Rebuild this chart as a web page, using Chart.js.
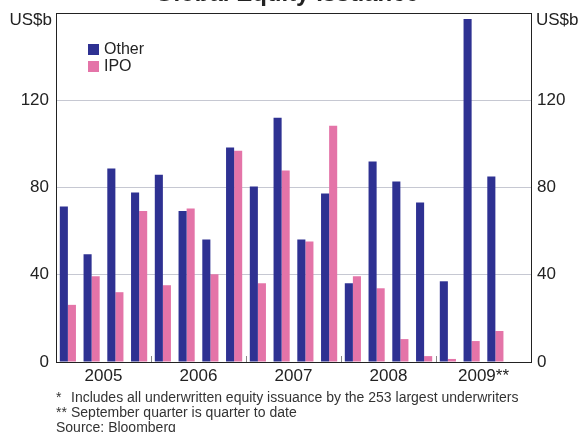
<!DOCTYPE html>
<html>
<head>
<meta charset="utf-8">
<script src="https://cdn.jsdelivr.net/npm/chart.js@4.4.1/dist/chart.umd.min.js"></script>
<style>
  html, body { margin: 0; padding: 0; background: #fff; }
  #wrap { position: relative; width: 582px; height: 432px; overflow: hidden; font-family: "Liberation Sans", Arial, sans-serif; }
  #c { position: absolute; left: 0; top: 0; }
  .fn { position: absolute; font-size: 14px; color: #333; line-height: 15px; white-space: nowrap; }
</style>
</head>
<body>
<div id="wrap">
  <canvas id="c" width="582" height="432"></canvas>
  <div class="fn" style="left:56px; top:390px;">*</div>
  <div class="fn" style="left:71px; top:390px;">Includes all underwritten equity issuance by the 253 largest underwriters</div>
  <div class="fn" style="left:56px; top:405px;">**</div>
  <div class="fn" style="left:71px; top:405px;">September quarter is quarter to date</div>
  <div class="fn" style="left:56px; top:420px;">Source: Bloomberg</div>
</div>
<script>
const quarters = [
  '2005 Q1','2005 Q2','2005 Q3','2005 Q4',
  '2006 Q1','2006 Q2','2006 Q3','2006 Q4',
  '2007 Q1','2007 Q2','2007 Q3','2007 Q4',
  '2008 Q1','2008 Q2','2008 Q3','2008 Q4',
  '2009 Q1','2009 Q2','2009 Q3','2009 Q4'
];
const years = ['2005','2006','2007','2008','2009**'];
const otherValues = [71.3, 49.4, 88.7, 77.7, 85.9, 69.2, 56.2, 98.3, 80.5, 112, 56.2, 77.3, 36.1, 91.9, 82.7, 73.1, 37.0, 157.3, 85.0, null];
const ipoValues   = [26.2, 39.3, 32.0, 69.2, 35.2, 70.4, 40.2, 96.9, 36.1, 87.8, 55.3, 108.3, 39.3, 33.8, 10.5, 2.7, 1.4, 9.6, 14.2, null];
const yTicks = [0, 40, 80, 120];
const unitLabel = 'US$b';
const titleText = 'Global Equity Issuance*';

const FONT = '"Liberation Sans", Arial, sans-serif';
const TEXT = '#222';

const decor = {
  id: 'decor',
  afterDraw(chart) {
    const ctx = chart.ctx;
    const a = chart.chartArea;
    const xy = chart.scales.xYear;
    ctx.save();
    // year separator ticks (inside, from the bottom)
    ctx.strokeStyle = '#888';
    ctx.lineWidth = 1;
    for (let i = 1; i < years.length; i++) {
      const x = Math.round((xy.getPixelForTick(i - 1) + xy.getPixelForTick(i)) / 2) + 0.5;
      ctx.beginPath();
      ctx.moveTo(x, a.bottom - 6);
      ctx.lineTo(x, a.bottom);
      ctx.stroke();
    }
    // border
    ctx.strokeStyle = '#222';
    ctx.lineWidth = 1;
    ctx.strokeRect(Math.round(a.left) + 0.5, Math.round(a.top) + 0.5, Math.round(a.right - a.left), Math.round(a.bottom - a.top));
    // unit labels
    ctx.fillStyle = TEXT;
    ctx.font = '17px ' + FONT;
    ctx.textBaseline = 'middle';
    ctx.textAlign = 'right';
    ctx.fillText(unitLabel, a.left - 4, a.top + 7);
    ctx.textAlign = 'left';
    ctx.fillText(unitLabel, a.right + 5, a.top + 7);
    // title (cut at the top)
    ctx.font = 'bold 24px ' + FONT;
    ctx.textAlign = 'center';
    ctx.textBaseline = 'alphabetic';
    ctx.fillText(titleText, (a.left + a.right) / 2 - 2, 1);
    // legend
    ctx.font = '16px ' + FONT;
    ctx.textBaseline = 'middle';
    ctx.textAlign = 'left';
    chart.data.datasets.forEach((ds, i) => {
      const y = a.top + 31 + i * 17;
      ctx.fillStyle = ds.backgroundColor;
      ctx.fillRect(a.left + 32, y, 11, 11);
      ctx.fillStyle = TEXT;
      ctx.fillText(ds.label, a.left + 48, y + 6);
    });
    ctx.restore();
  }
};

function fixY(w) {
  return function (s) { s.width = w; s.paddingTop = 0; s.paddingBottom = 0; };
}
function fixX(h) {
  return function (s) { s.height = h; s.paddingLeft = 0; s.paddingRight = 0; };
}

new Chart(document.getElementById('c'), {
  type: 'bar',
  data: {
    labels: quarters,
    datasets: [
      { label: 'Other', data: otherValues, backgroundColor: '#2E3192', xAxisID: 'x', yAxisID: 'y' },
      { label: 'IPO', data: ipoValues, backgroundColor: '#E474A8', xAxisID: 'x', yAxisID: 'y' }
    ]
  },
  options: {
    responsive: false,
    animation: false,
    devicePixelRatio: 1,
    layout: { padding: { top: 13, left: 0, right: 0, bottom: 0 } },
    datasets: { bar: { categoryPercentage: 0.68, barPercentage: 1.0 } },
    plugins: { legend: { display: false }, title: { display: false }, tooltip: { enabled: false } },
    scales: {
      x: {
        type: 'category',
        position: 'bottom',
        offset: true,
        grid: { display: false },
        border: { display: false },
        ticks: { display: false },
        afterFit: fixX(0)
      },
      xYear: {
        type: 'category',
        labels: years,
        position: 'bottom',
        offset: true,
        grid: { display: false, drawTicks: false },
        border: { display: false },
        ticks: { color: TEXT, font: { family: FONT, size: 17 }, padding: 4, maxRotation: 0, autoSkip: false },
        afterFit: fixX(70)
      },
      y: {
        position: 'left',
        min: 0, max: 160,
        afterBuildTicks(s) { s.ticks = yTicks.map(v => ({ value: v })); },
        grid: { color: '#c6c8d2', lineWidth: 1, drawTicks: false },
        border: { display: false },
        ticks: { color: TEXT, font: { family: FONT, size: 17 }, padding: 7 },
        afterFit: fixY(56)
      },
      y2: {
        position: 'right',
        min: 0, max: 160,
        afterBuildTicks(s) { s.ticks = yTicks.map(v => ({ value: v })); },
        grid: { display: false, drawTicks: false },
        border: { display: false },
        ticks: { color: TEXT, font: { family: FONT, size: 17 }, padding: 6 },
        afterFit: fixY(51)
      }
    }
  },
  plugins: [decor]
});
</script>
</body>
</html>
